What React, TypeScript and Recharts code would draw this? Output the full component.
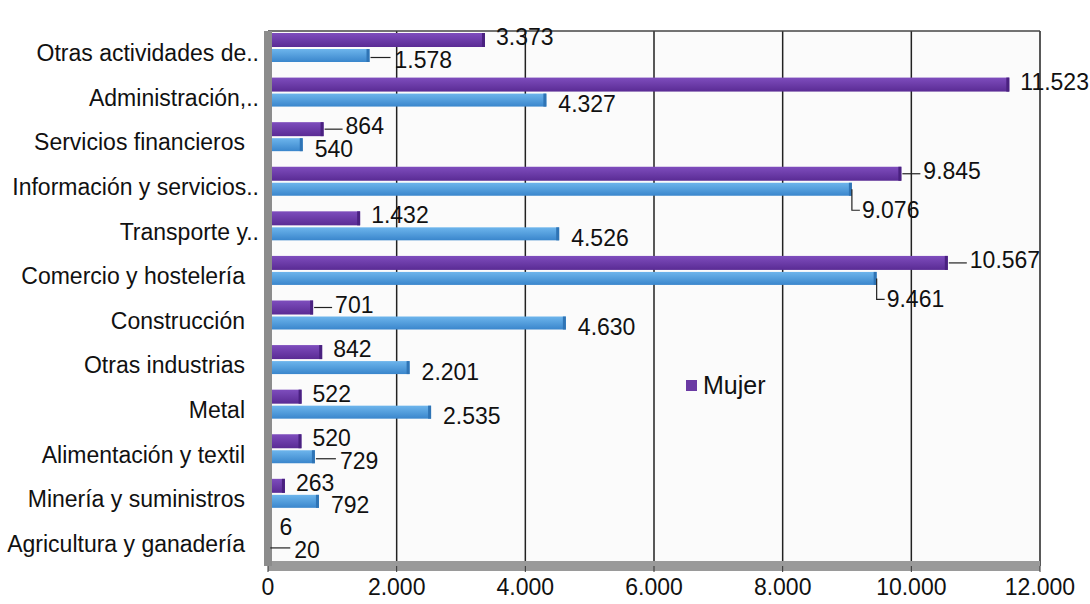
import React from 'react';
import { BarChart, Bar, XAxis, YAxis, CartesianGrid, Legend, LabelList } from 'recharts';

const categories = [
  'Otras actividades de..',
  'Administración,..',
  'Servicios financieros',
  'Información y servicios..',
  'Transporte y..',
  'Comercio y hostelería',
  'Construcción',
  'Otras industrias',
  'Metal',
  'Alimentación y textil',
  'Minería y suministros',
  'Agricultura y ganadería',
];
const mujer = [3373, 11523, 864, 9845, 1432, 10567, 701, 842, 522, 520, 263, 6];
const hombre = [1578, 4327, 540, 9076, 4526, 9461, 4630, 2201, 2535, 729, 792, 20];
const xTicks = [0, 2000, 4000, 6000, 8000, 10000, 12000];

// labels that Excel pulled away from the bar with a leader line
const mujerLeader = ['Servicios financieros', 'Información y servicios..', 'Comercio y hostelería', 'Construcción'];
const hombreLeader = ['Otras actividades de..', 'Alimentación y textil', 'Agricultura y ganadería'];

const data = categories.map((name, i) => ({ name, mujer: mujer[i], hombre: hombre[i] }));

const DEPTH = 6; // fake 3d lift of the bars
const FS = 23;
const FONT = "'Liberation Sans', Arial, sans-serif";
const fmt = (v: number) => String(v).replace(/\B(?=(\d{3})+(?!\d))/g, '.');

const BarShape = (props: any) => {
  const { x, y, width, height, grad, cap } = props;
  if (width <= 0) return null;
  const w = Math.max(width, 2);
  return (
    <g>
      <rect x={x} y={y - DEPTH} width={w} height={height} fill={`url(#${grad})`} />
      <rect x={x + w - Math.min(3, w)} y={y - DEPTH} width={Math.min(3, w)} height={height} fill={cap} />
    </g>
  );
};

const CatTick = (props: any) => {
  const { x, y, payload } = props;
  const t: string = payload.value;
  const trunc = t.endsWith('..');
  return (
    <text x={x - (trunc ? 1 : 15)} y={y} textAnchor="end" dominantBaseline="central" fontSize={FS} fill="#111" fontFamily={FONT}>
      {t}
    </text>
  );
};

const MujerLabel = (props: any) => {
  const { x, y, width, height, value, index } = props;
  const end = x + width;
  const mid = y + height / 2 - DEPTH;
  const lead = mujerLeader.includes(categories[index]);
  const gap = lead ? 22 : 11;
  return (
    <g>
      {lead && <line x1={end + 1} y1={mid} x2={end + gap - 3} y2={mid} stroke="#222" strokeWidth={1.2} />}
      <text x={end + gap} y={mid - 3} dominantBaseline="central" fontSize={FS} fill="#111" fontFamily={FONT}>
        {fmt(value)}
      </text>
    </g>
  );
};

const HombreLabel = (props: any) => {
  const { x, y, width, height, value, index } = props;
  const end = x + width;
  const mid = y + height / 2 - DEPTH;
  const over = x + (mujer[index] / value) * width - end;
  // purple bar and its label crowd the spot: drop the label below with an elbow
  if (over > 30 && over < 100) {
    const ly = mid + 21;
    return (
      <g>
        <polyline points={`${end},${mid} ${end},${ly} ${end + 8},${ly}`} fill="none" stroke="#222" strokeWidth={1.2} />
        <text x={end + 10} y={ly} dominantBaseline="central" fontSize={FS} fill="#111" fontFamily={FONT}>
          {fmt(value)}
        </text>
      </g>
    );
  }
  const lead = hombreLeader.includes(categories[index]);
  const gap = lead ? 25 : 12;
  return (
    <g>
      {lead && <line x1={end + 1} y1={mid + 2} x2={end + gap - 4} y2={mid + 2} stroke="#222" strokeWidth={1.2} />}
      <text x={end + gap} y={mid + 4} dominantBaseline="central" fontSize={FS} fill="#111" fontFamily={FONT}>
        {fmt(value)}
      </text>
    </g>
  );
};

const LegendBox = (props: any) => {
  const items = (props.payload || []).filter((p: any) => p.type !== 'none');
  return (
    <div style={{ display: 'flex', alignItems: 'center' }}>
      {items.map((p: any) => (
        <div key={p.value} style={{ display: 'flex', alignItems: 'center' }}>
          <span style={{ width: 11, height: 11, background: p.color, display: 'inline-block', marginRight: 6 }} />
          <span style={{ fontSize: 25, lineHeight: '28px', color: '#111', fontFamily: FONT }}>{p.value}</span>
        </div>
      ))}
    </div>
  );
};

export default function App() {
  return (
    <div style={{ position: 'absolute', left: 0, top: 0, width: 1090, height: 604, background: '#fff', fontFamily: FONT }}>
      <BarChart
        width={1090}
        height={604}
        data={data}
        layout="vertical"
        margin={{ top: 30, right: 50, bottom: 8, left: 0 }}
        barGap={2}
      >
        <defs>
          <linearGradient id="gPurple" x1="0" y1="0" x2="0" y2="1">
            <stop offset="0" stopColor="#7e4dbd" />
            <stop offset="1" stopColor="#5a2b94" />
          </linearGradient>
          <linearGradient id="gBlue" x1="0" y1="0" x2="0" y2="1">
            <stop offset="0" stopColor="#6db5ec" />
            <stop offset="1" stopColor="#3a86cc" />
          </linearGradient>
        </defs>
        <CartesianGrid horizontal={false} stroke="#222" strokeWidth={1.5} fill="#fbfbfb" />
        <XAxis
          type="number"
          domain={[0, 12000]}
          ticks={xTicks}
          tickFormatter={fmt}
          axisLine={{ stroke: '#9a9a9a', strokeWidth: 10 }}
          tickLine={{ stroke: '#333' }}
          tick={{ fontSize: FS, fill: '#111', fontFamily: FONT }}
          tickMargin={7}
          height={30}
        />
        <XAxis
          xAxisId="top"
          orientation="top"
          type="number"
          domain={[0, 12000]}
          tick={false}
          tickLine={false}
          axisLine={{ stroke: '#444', strokeWidth: 1.5 }}
          height={1}
        />
        <YAxis
          type="category"
          dataKey="name"
          width={268}
          interval={0}
          tickLine={false}
          axisLine={{ stroke: '#8c8c8c', strokeWidth: 8 }}
          tick={<CatTick />}
        />
        <Legend
          layout="horizontal"
          align="center"
          verticalAlign="middle"
          content={<LegendBox />}
          wrapperStyle={{ position: 'absolute', left: 686, top: 371, width: 'auto' }}
        />
        <Bar
          dataKey="mujer"
          name="Mujer"
          fill="#6a3aa3"
          barSize={14}
          isAnimationActive={false}
          shape={(p: any) => <BarShape {...p} grad="gPurple" cap="#4a2180" />}
        >
          <LabelList dataKey="mujer" content={MujerLabel} />
        </Bar>
        <Bar
          dataKey="hombre"
          name="Hombre"
          fill="#4a9de0"
          barSize={13}
          legendType="none"
          isAnimationActive={false}
          shape={(p: any) => <BarShape {...p} grad="gBlue" cap="#2f74b5" />}
        >
          <LabelList dataKey="hombre" content={HombreLabel} />
        </Bar>
      </BarChart>
    </div>
  );
}
